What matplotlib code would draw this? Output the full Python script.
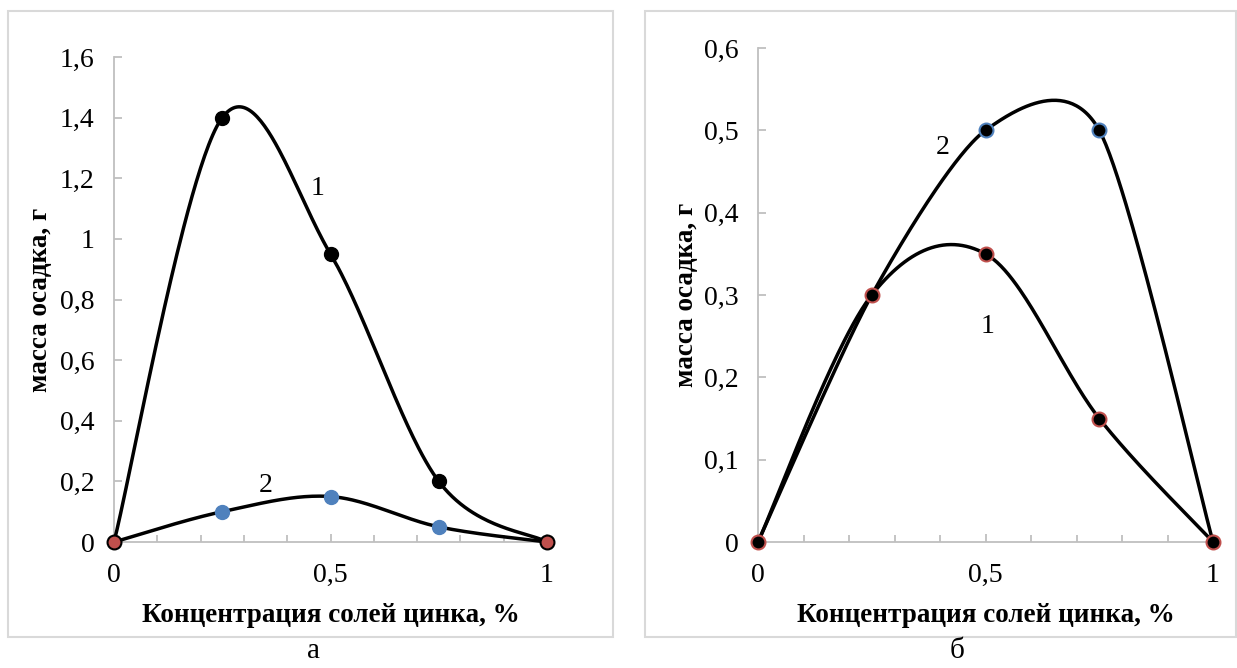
import numpy as np
import matplotlib
matplotlib.use("Agg")
import matplotlib.pyplot as plt
from matplotlib.patches import Rectangle
from matplotlib.ticker import MultipleLocator, FuncFormatter

# данные
conc = [0, 0.25, 0.5, 0.75, 1]
a_ser1 = [0, 1.4, 0.95, 0.2, 0]
a_ser2 = [0, 0.1, 0.15, 0.05, 0]
b_ser1 = [0, 0.3, 0.35, 0.15, 0]
b_ser2 = [0, 0.3, 0.5, 0.5, 0]

xlabel = "Концентрация солей цинка, %"
ylabel = "масса осадка, г"

RED = "#C0504D"
BLUE = "#4F81BD"
GRAY = "#BFBFBF"

plt.rcParams['font.family'] = ['Liberation Serif', 'DejaVu Serif']


def smooth(xs, ys, sx, sy, n=60, k=6.0):
    # сглаживание как в Excel: кривые Безье с контрольными точками Катмулла-Рома
    p = np.column_stack([np.array(xs) / sx, np.array(ys) / sy])
    pts = np.vstack([p[0], p, p[-1]])
    out = []
    t = np.linspace(0, 1, n)[:, None]
    for i in range(1, len(pts) - 2):
        p0, p1, p2, p3 = pts[i - 1], pts[i], pts[i + 1], pts[i + 2]
        c1 = p1 + (p2 - p0) / k
        c2 = p2 - (p3 - p1) / k
        seg = ((1 - t) ** 3) * p1 + 3 * ((1 - t) ** 2) * t * c1 + 3 * (1 - t) * t ** 2 * c2 + t ** 3 * p2
        out.append(seg)
    out = np.vstack(out)
    return out[:, 0] * sx, out[:, 1] * sy


def comma(v, pos):
    s = ("%.1f" % v).rstrip("0").rstrip(".")
    return s.replace(".", ",")


def style_axes(ax, ymax, ystep):
    ax.set_xlim(0, 1)
    ax.set_ylim(0, ymax)
    for s in ["top", "right"]:
        ax.spines[s].set_visible(False)
    for s in ["left", "bottom"]:
        ax.spines[s].set_color(GRAY)
        ax.spines[s].set_linewidth(1.3)
    ax.xaxis.set_major_locator(MultipleLocator(0.5))
    ax.xaxis.set_minor_locator(MultipleLocator(0.1))
    ax.yaxis.set_major_locator(MultipleLocator(ystep))
    ax.xaxis.set_major_formatter(FuncFormatter(comma))
    ax.yaxis.set_major_formatter(FuncFormatter(comma))
    ax.tick_params(axis="x", which="both", direction="in", color=GRAY, width=1.3, labelsize=20, pad=15)
    ax.tick_params(axis="x", which="major", length=6)
    ax.tick_params(axis="x", which="minor", length=5)
    ax.tick_params(axis="y", direction="in", color=GRAY, width=1.3, length=6, labelsize=20, pad=14)
    ax.set_xlabel(xlabel, fontsize=19.5, fontweight="bold")
    ax.set_ylabel(ylabel, fontsize=19.5, fontweight="bold")


fig = plt.figure(figsize=(12.37, 6.68), dpi=100)

# рамки панелей
fig.patches.append(Rectangle((8 / 1237, 1 - 637 / 668), 605 / 1237, 626 / 668,
                             transform=fig.transFigure, fill=False, edgecolor="#D9D9D9", lw=1.5))
fig.patches.append(Rectangle((645 / 1237, 1 - 637 / 668), 591 / 1237, 626 / 668,
                             transform=fig.transFigure, fill=False, edgecolor="#D9D9D9", lw=1.5))

# панель а
ax1 = fig.add_axes([114 / 1237, 1 - 542 / 668, 433 / 1237, 485 / 668])
style_axes(ax1, 1.6, 0.2)
ax1.xaxis.set_label_coords(0.5, -0.126)
ax1.yaxis.set_label_coords(-0.14, 0.5)
for ys in [a_ser1, a_ser2]:
    sx, sy = smooth(conc, ys, 1.0, 1.6 * 485 / 433)
    ax1.plot(sx, sy, color="black", lw=2.5, clip_on=False, zorder=3)
ax1.plot(conc[1:4], a_ser1[1:4], "o", color="black", ms=10, zorder=4, clip_on=False)
ax1.plot(conc[1:4], a_ser2[1:4], "o", color=BLUE, ms=10, zorder=4, clip_on=False)
ax1.plot([conc[0], conc[-1]], [a_ser1[0], a_ser1[-1]], "o", color=RED, mec="black", mew=1.5,
         ms=10, zorder=5, clip_on=False)
ax1.text(0.47, 1.165, "1", fontsize=20, ha="center", va="center")
ax1.text(0.35, 0.185, "2", fontsize=20, ha="center", va="center")

# панель б
ax2 = fig.add_axes([758 / 1237, 1 - 542 / 668, 455 / 1237, 494 / 668])
style_axes(ax2, 0.6, 0.1)
ax2.xaxis.set_label_coords(0.5, -0.123)
ax2.yaxis.set_label_coords(-0.13, 0.5)
for ys, k in [(b_ser1, 6.0), (b_ser2, 7.5)]:
    sx, sy = smooth(conc, ys, 1.0, 0.6 * 494 / 455, k=k)
    ax2.plot(sx, sy, color="black", lw=2.5, clip_on=False, zorder=3)
ax2.plot(conc, b_ser1, "o", color="black", mec=RED, mew=1.5, ms=10, zorder=4, clip_on=False)
ax2.plot(conc[2:4], b_ser2[2:4], "o", color="black", mec=BLUE, mew=1.5, ms=10, zorder=4, clip_on=False)
ax2.text(0.405, 0.479, "2", fontsize=20, ha="center", va="center")
ax2.text(0.505, 0.262, "1", fontsize=20, ha="center", va="center")

fig.text(314 / 1237, 1 - 651 / 668, "а", fontsize=21, ha="center", va="center")
fig.text(957 / 1237, 1 - 651 / 668, "б", fontsize=21, ha="center", va="center")

fig.savefig("out.png", dpi=100)
